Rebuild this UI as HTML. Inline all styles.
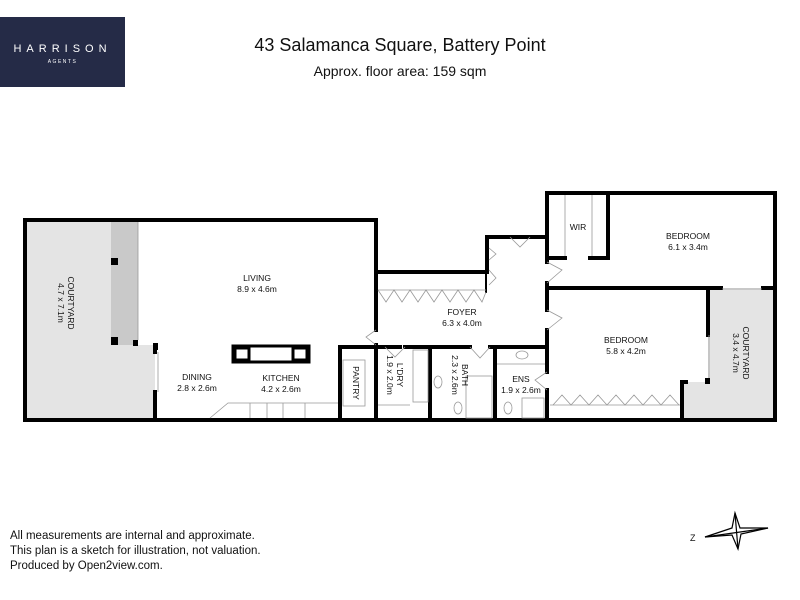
<!DOCTYPE html>
<html><head><meta charset="utf-8"><style>
html,body{margin:0;padding:0;background:#fff;}
body{width:800px;height:600px;position:relative;overflow:hidden;font-family:"Liberation Sans",sans-serif;}
.logo{position:absolute;left:0;top:17px;width:125px;height:70px;background:#252b47;color:#fff;}
.t1{position:absolute;left:0;width:800px;text-align:center;top:35px;font-size:18px;color:#111;}
.t2{position:absolute;left:0;width:800px;text-align:center;top:63px;font-size:14px;color:#111;}
.foot{position:absolute;left:10px;top:529px;font-size:11.5px;line-height:15px;color:#111;}
svg{position:absolute;left:0;top:0;}
</style></head><body>
<div class="logo">
<div style="position:absolute;left:0;width:125px;top:26px;text-align:center;font-size:11px;letter-spacing:5px;">HARRISON</div>
<div style="position:absolute;left:0;width:125px;top:42px;text-align:center;font-size:5px;letter-spacing:1.5px;">AGENTS</div>
</div>
<div class="t1">43 Salamanca Square, Battery Point</div>
<div class="t2">Approx. floor area: 159 sqm</div>
<div class="foot">All measurements are internal and approximate.<br>This plan is a sketch for illustration, not valuation.<br>Produced by Open2view.com.</div>
<svg width="800" height="600" viewBox="0 0 800 600" font-family="Liberation Sans, sans-serif">
<polygon points="25,220 138,220 138,345 155,345 155,420 25,420" fill="#e4e4e4"/>
<rect x="111" y="222" width="27" height="123" fill="#c9c9c9"/>
<polygon points="708,288 775,288 775,420 682,420 682,382 708,382" fill="#e4e4e4"/>
<g stroke="#000" stroke-width="4" fill="none" stroke-linecap="square">
<polyline points="25,220 376,220 376,272 487,272 487,237 547,237"/>
<polyline points="547,237 547,193 775,193 775,420 25,420 25,220"/>
<line x1="376" y1="272" x2="376" y2="330"/>
<line x1="376" y1="345" x2="376" y2="420"/>
<line x1="155" y1="347" x2="155" y2="352"/>
<line x1="155" y1="392" x2="155" y2="420"/>
<line x1="340" y1="347" x2="376" y2="347"/>
<line x1="340" y1="347" x2="340" y2="420"/>
<line x1="376" y1="347" x2="400" y2="347"/>
<line x1="405" y1="347" x2="470" y2="347"/>
<line x1="490" y1="347" x2="547" y2="347"/>
<line x1="430" y1="347" x2="430" y2="420"/>
<line x1="495" y1="347" x2="495" y2="420"/>
<line x1="547" y1="237" x2="547" y2="262"/>
<line x1="547" y1="283" x2="547" y2="310"/>
<line x1="547" y1="330" x2="547" y2="372"/>
<line x1="547" y1="390" x2="547" y2="420"/>
<line x1="608" y1="193" x2="608" y2="258"/>
<line x1="590" y1="258" x2="608" y2="258"/>
<line x1="547" y1="258" x2="565" y2="258"/>
<line x1="547" y1="288" x2="721" y2="288"/>
<line x1="763" y1="288" x2="775" y2="288"/>
<line x1="708" y1="288" x2="708" y2="335"/>
<line x1="682" y1="382" x2="682" y2="420"/>
<line x1="682" y1="382" x2="686" y2="382"/>
<line x1="486" y1="248" x2="486" y2="292" stroke-width="2"/>
</g>
<g fill="#000">
<rect x="111" y="258" width="7" height="7"/><rect x="111" y="337" width="7" height="8"/>
<rect x="133" y="340" width="5" height="6"/><rect x="153" y="343" width="5" height="7"/>
<rect x="705" y="378" width="5" height="6"/>
</g>
<rect x="233" y="346" width="76" height="16" fill="#fff" stroke="#000" stroke-width="3"/>
<rect x="235" y="348" width="14" height="12" fill="#fff" stroke="#000" stroke-width="3"/>
<rect x="293" y="348" width="14" height="12" fill="#fff" stroke="#000" stroke-width="3"/>
<g stroke="#999" stroke-width="0.8" fill="none">
<polyline points="210,418 228,403 338,403"/>
<line x1="250" y1="403" x2="250" y2="418"/><line x1="267" y1="403" x2="267" y2="418"/><line x1="283" y1="403" x2="283" y2="418"/><line x1="305" y1="403" x2="305" y2="418"/>
<rect x="343" y="360" width="22" height="46"/>
<line x1="138" y1="222" x2="138" y2="340"/><line x1="158" y1="352" x2="158" y2="392"/>
<line x1="709" y1="335" x2="709" y2="378"/><line x1="722" y1="289" x2="762" y2="289"/>
<polyline points="376,330 366,337 376,345"/>
<polyline points="510,237 520,247 530,237"/>
<polyline points="547,262 562,270 547,283"/><polyline points="547,310 562,318 547,330"/>
<polyline points="470,347 480,358 490,347"/><polyline points="385,347 395,357 405,347"/>
<polyline points="547,372 535,380 547,390"/>
<polyline points="489,248 496,254 489,260"/><polyline points="489,270 496,278 489,285"/>
<line x1="378" y1="290" x2="486" y2="290"/><polyline points="378,290 386,302 394,290 402,302 410,290 418,302 426,290 434,302 442,290 450,302 458,290 466,302 474,290 482,302 486,292"/>
<line x1="550" y1="405" x2="680" y2="405"/><polyline points="553,405 562,395 571,405 580,395 589,405 598,395 607,405 616,395 625,405 634,395 643,405 652,395 661,405 670,395 679,405"/>
<line x1="565" y1="195" x2="565" y2="256"/><line x1="592" y1="195" x2="592" y2="256"/>
<rect x="413" y="350" width="15" height="52"/><rect x="466" y="376" width="26" height="42"/><rect x="522" y="398" width="22" height="20"/>
<line x1="497" y1="364" x2="545" y2="364"/><ellipse cx="522" cy="355" rx="6" ry="4"/><ellipse cx="438" cy="382" rx="4" ry="6"/>
<ellipse cx="458" cy="408" rx="4" ry="6"/><ellipse cx="508" cy="408" rx="4" ry="6"/>
<line x1="378" y1="405" x2="410" y2="405"/>
</g>
<g font-size="8.5" fill="#111" text-anchor="middle">
<text x="257" y="281">LIVING</text><text x="257" y="292">8.9 x 4.6m</text>
<text x="197" y="380">DINING</text><text x="197" y="391">2.8 x 2.6m</text>
<text x="281" y="381">KITCHEN</text><text x="281" y="392">4.2 x 2.6m</text>
<text x="462" y="315">FOYER</text><text x="462" y="326">6.3 x 4.0m</text>
<text x="578" y="230">WIR</text>
<text x="688" y="239">BEDROOM</text><text x="688" y="250">6.1 x 3.4m</text>
<text x="626" y="343">BEDROOM</text><text x="626" y="354">5.8 x 4.2m</text>
<text x="521" y="382">ENS</text><text x="521" y="393">1.9 x 2.6m</text>
<text transform="translate(68,303) rotate(90)">COURTYARD</text>
<text transform="translate(58,303) rotate(90)">4.7 x 7.1m</text>
<text transform="translate(743,353) rotate(90)">COURTYARD</text>
<text transform="translate(733,353) rotate(90)">3.4 x 4.7m</text>
<text transform="translate(353,383) rotate(90)">PANTRY</text>
<text transform="translate(397,375) rotate(90)">L'DRY</text>
<text transform="translate(387,375) rotate(90)">1.9 x 2.0m</text>
<text transform="translate(462,375) rotate(90)">BATH</text>
<text transform="translate(452,375) rotate(90)">2.3 x 2.6m</text>
</g>
<g stroke="#000" stroke-width="1.2" fill="none">
<polygon points="705,537 732,528 735,513 740,528 768,528 741,534 738,549 732,535"/>
<line x1="705" y1="537" x2="768" y2="528"/><line x1="735" y1="513" x2="738" y2="549"/>
</g>
<text x="690" y="541" font-size="9" fill="#111">Z</text>
</svg>
</body></html>
